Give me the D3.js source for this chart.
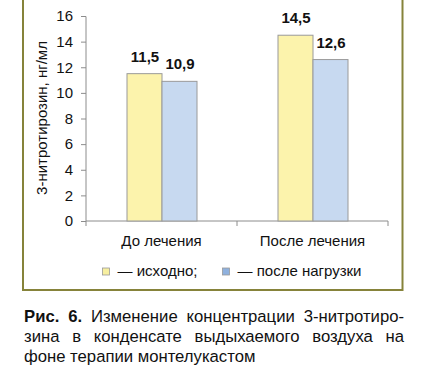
<!DOCTYPE html>
<html><head><meta charset="utf-8">
<script src="https://cdn.jsdelivr.net/npm/d3@7"></script>
<style>
html,body{margin:0;padding:0;background:#fff;}
svg{display:block;}
text{font-family:"Liberation Sans",Arial,sans-serif;fill:#111;}
</style></head>
<body>
<script>
const categories = ["До лечения", "После лечения"];
const seriesNames = ["— исходно;", "— после нагрузки"];
const seriesBefore = [11.5, 14.5];   // исходно
const seriesAfter = [10.9, 12.6];    // после нагрузки
const valueLabels = [["11,5", "14,5"], ["10,9", "12,6"]];
const yTicks = [0, 2, 4, 6, 8, 10, 12, 14, 16];
const yTitle = "3-нитротирозин, нг/мл";
const captionLines = [
  [{t:"Рис.", b:true},{t:"6.", b:true},{t:"Изменение"},{t:"концентрации"},{t:"3-нитротиро-"}],
  [{t:"зина"},{t:"в"},{t:"конденсате"},{t:"выдыхаемого"},{t:"воздуха"},{t:"на"}],
  [{t:"фоне"},{t:"терапии"},{t:"монтелукастом"}]
];

const W = 426, H = 383;
const fills = ["#fcf3ac", "#c7d9f0"];
const legendFills = ["#f7efa0", "#8fb1de"];
const svg = d3.select("body").append("svg").attr("width", W).attr("height", H);

// frame
svg.append("rect").attr("x", 23).attr("y", -4).attr("width", 379.5).attr("height", 294)
  .attr("fill", "none").attr("stroke", "#86833a").attr("stroke-width", 2);

const y = d3.scaleLinear().domain([0, 16]).range([221, 16]);
const x0 = d3.scaleBand().domain(categories).range([86, 388]);
const x1 = d3.scaleBand().domain([0, 1]).range([x0.bandwidth()/2 - 35, x0.bandwidth()/2 + 35]);

// y axis
const yAxis = d3.axisLeft(y).tickValues(yTicks).tickSize(5).tickPadding(8).tickFormat(d3.format("d"));
const gy = svg.append("g").attr("transform", "translate(86,0)").call(yAxis);
gy.selectAll("path,line").attr("stroke", "#8c8c8c");
gy.select(".domain").attr("d", "M-5,16.5H0V221");
gy.selectAll("text").style("font-size", "15px").attr("fill", "#111")
  .style("font-family", '"Liberation Sans",Arial,sans-serif');

// x axis
const xAxis = d3.axisBottom(x0).tickSize(0).tickPadding(14);
const gx = svg.append("g").attr("transform", "translate(0,221)").call(xAxis);
gx.select(".domain").attr("stroke", "#8c8c8c").attr("d", "M86,0H388");
gx.selectAll("text").style("font-size", "15px").attr("fill", "#111")
  .style("font-family", '"Liberation Sans",Arial,sans-serif');
const sepTicks = [x0.range()[0], x0(categories[1]), x0.range()[1]];
gx.selectAll("line.sep").data(sepTicks).enter().append("line").attr("class", "sep")
  .attr("x1", d => d).attr("x2", d => d).attr("y1", 0).attr("y2", 5).attr("stroke", "#8c8c8c");

// bars
const seriesData = [seriesBefore, seriesAfter];
const groups = svg.append("g").selectAll("g").data(categories).enter().append("g")
  .attr("transform", d => `translate(${x0(d)},0)`);
groups.selectAll("rect").data((c, ci) => seriesData.map((s, si) => ({si, v: s[ci], lab: valueLabels[si][ci]})))
  .enter().append("rect")
  .attr("x", d => x1(d.si) + 0.5).attr("width", x1.bandwidth())
  .attr("y", d => y(d.v)).attr("height", d => y(0) - y(d.v))
  .attr("fill", d => fills[d.si]).attr("stroke", "#9a9a9a").attr("stroke-width", 1);
groups.selectAll("text.val").data((c, ci) => seriesData.map((s, si) => ({si, v: s[ci], lab: valueLabels[si][ci]})))
  .enter().append("text").attr("class", "val")
  .attr("x", d => x1(d.si) + x1.bandwidth()/2 + 1).attr("y", d => y(d.v) - 12)
  .attr("text-anchor", "middle").style("font-size", "15px").style("font-weight", "bold")
  .text(d => d.lab);

// y title
svg.append("text").attr("transform", "translate(47,118) rotate(-90)")
  .attr("text-anchor", "middle").style("font-size", "15px").text(yTitle);

// legend
const legX = [102.5, 222.5];
const leg = svg.append("g").selectAll("g").data(seriesNames).enter().append("g")
  .attr("transform", (d, i) => `translate(${legX[i]},268)`);
leg.append("rect").attr("width", 7).attr("height", 7).attr("fill", (d, i) => legendFills[i])
  .attr("stroke", "#999").attr("stroke-width", 0.8);
leg.append("text").attr("x", 15).attr("y", 8).style("font-size", "15px").text(d => d);

// caption, justified
const capX0 = 24, capX1 = 404, capY = [321.5, 342, 362];
captionLines.forEach((words, li) => {
  const g = svg.append("g");
  const texts = words.map(w => g.append("text").attr("y", capY[li]).style("font-size", "16.7px")
    .style("font-weight", w.b ? "bold" : "normal").attr("fill", "#111").text(w.t));
  const widths = texts.map(t => t.node().getComputedTextLength());
  const total = d3.sum(widths);
  const justify = li < captionLines.length - 1;
  const gap = justify ? (capX1 - capX0 - total) / (words.length - 1) : 4.6;
  let cx = capX0;
  texts.forEach((t, i) => { t.attr("x", cx); cx += widths[i] + gap; });
});
</script>
</body></html>
